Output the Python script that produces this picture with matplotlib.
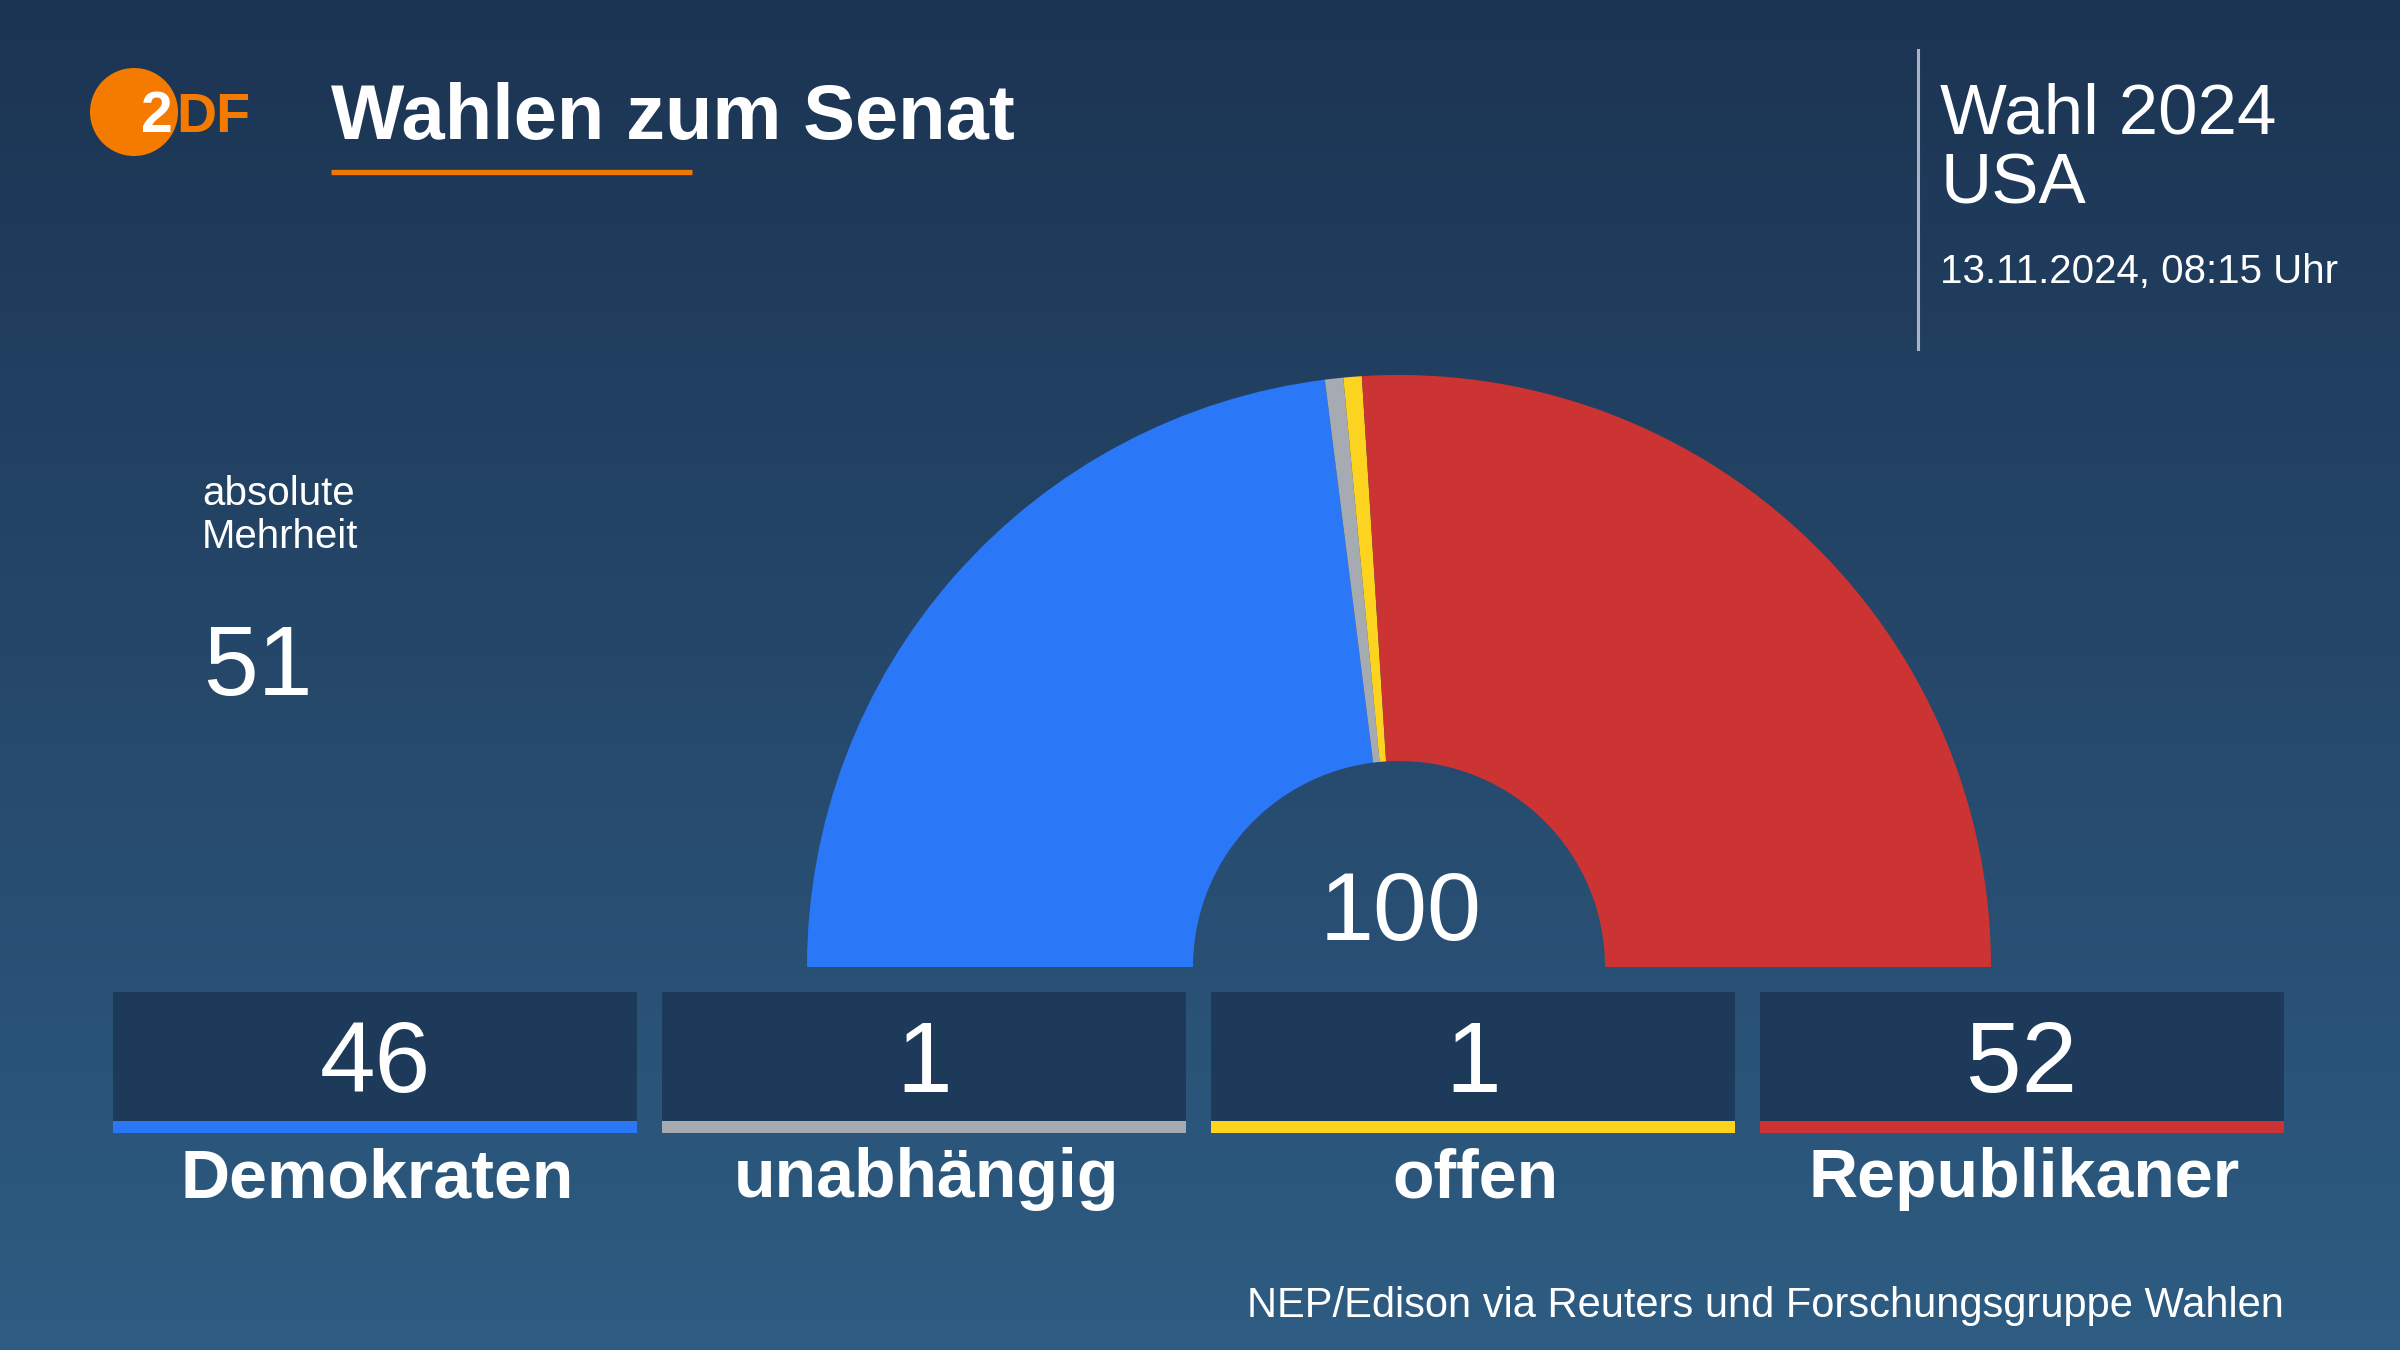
import numpy as np
import matplotlib.pyplot as plt
from matplotlib.colors import LinearSegmentedColormap
from matplotlib.patches import Circle

plt.rcParams['font.family'] = ['Liberation Sans', 'DejaVu Sans']

# data
parties = ['Demokraten', 'unabhängig', 'offen', 'Republikaner']
seats = [46, 1, 1, 52]
colors = ['#2a77f7', '#a6aab1', '#fcd41f', '#cc3333']
majority = 51
title = 'Wahlen zum Senat'
source = 'NEP/Edison via Reuters und Forschungsgruppe Wahlen'

W, H = 2400, 1350
fig = plt.figure(figsize=(24, 13.5), dpi=100)

# background in pixel coords (y from top)
bg = fig.add_axes([0, 0, 1, 1])
grad = np.linspace(0, 1, 256).reshape(-1, 1)
cmap = LinearSegmentedColormap.from_list('bg', ['#1c3453', '#2e5c82'])
bg.imshow(grad, extent=[0, W, H, 0], cmap=cmap, aspect='auto')
bg.set_xlim(0, W)
bg.set_ylim(H, 0)
bg.axis('off')

# half donut
cx, cy, r_out, r_in = 1399, 967, 592, 206
pax = fig.add_axes([(cx - r_out) / W, (H - cy - r_out) / H, 2 * r_out / W, 2 * r_out / H])
pax.pie(seats + [sum(seats)], colors=colors + ['none'], startangle=180,
        counterclock=False, radius=1,
        wedgeprops=dict(width=1 - r_in / r_out, linewidth=0))
pax.set_xlim(-1, 1)
pax.set_ylim(-1, 1)
pax.axis('off')
pax.patch.set_alpha(0)
bg.text(cx + 2, 940, str(sum(seats)), color='white', fontsize=70,
        ha='center', va='baseline')

# boxes
box_left0, box_w, box_gap = 113, 524, 25
box_top, box_bot, bar_h = 992, 1121, 12
lefts = box_left0 + np.arange(len(parties)) * (box_w + box_gap)
bg.bar(lefts, box_bot - box_top, bottom=box_top, width=box_w, align='edge',
       color='#1e3a5a', linewidth=0)
bg.bar(lefts, bar_h, bottom=box_bot, width=box_w, align='edge',
       color=colors, linewidth=0)
for left, name, n in zip(lefts, parties, seats):
    xc = left + box_w / 2
    bg.text(xc, 1092, str(n), color='white', fontsize=72,
            ha='center', va='baseline')
    bg.text(xc + 2, 1197, name, color='white', fontsize=49, fontweight='bold',
            ha='center', va='baseline')

# logo
bg.add_patch(Circle((134, 112), 44, color='#f57a00', lw=0))
bg.text(141, 132, '2', color='white', fontsize=41, fontweight='bold',
        va='baseline')
bg.text(176, 132, 'DF', color='#f57a00', fontsize=40, fontweight='bold',
        va='baseline')

# title
bg.text(331, 139, title, color='white', fontsize=56, fontweight='bold',
        va='baseline')
bg.plot([331, 692], [172, 172], color='#f07800', lw=3.8, solid_capstyle='butt')

# top right block
bg.plot([1918, 1918], [50, 349], color='#a9b4c2', lw=2.2)
bg.text(1940, 133, 'Wahl 2024', color='white', fontsize=51, va='baseline')
bg.text(1940, 204, 'USA', color='white', fontsize=51, va='baseline')
bg.text(1940, 283, '13.11.2024, 08:15 Uhr', color='white', fontsize=29,
        va='baseline')

# majority
bg.text(202, 505, 'absolute', color='white', fontsize=29, va='baseline')
bg.text(202, 548, 'Mehrheit', color='white', fontsize=29, va='baseline')
bg.text(203, 695, str(majority), color='white', fontsize=71, va='baseline')

# source
bg.text(2284, 1317, source, color='white', fontsize=30, ha='right',
        va='baseline')

fig.savefig('out.png', dpi=100)
